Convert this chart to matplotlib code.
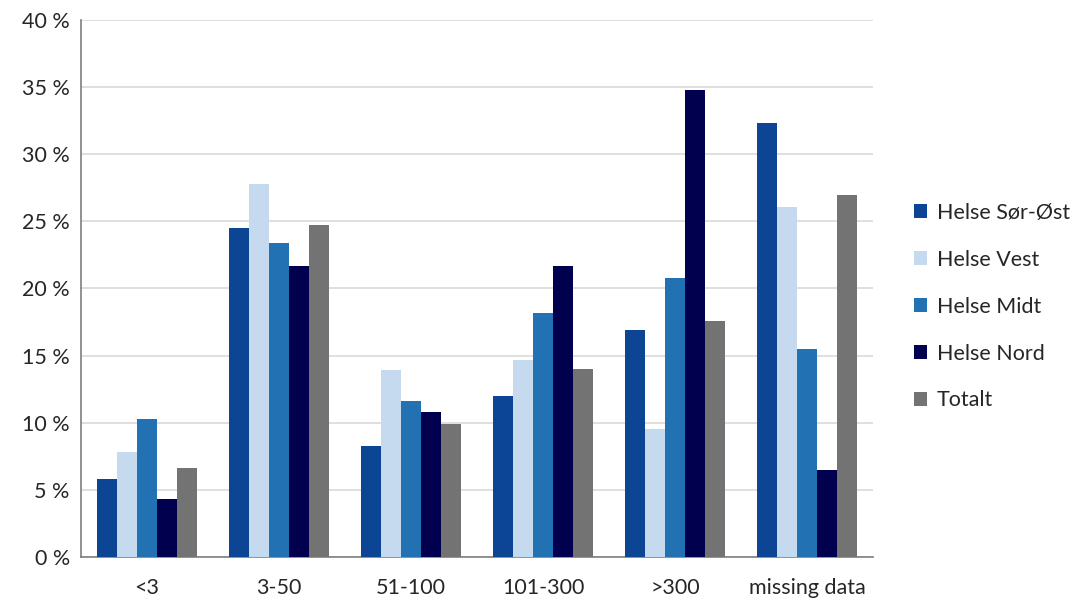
import matplotlib
matplotlib.use("Agg")
import matplotlib.pyplot as plt
import numpy as np
from matplotlib.patches import Patch

categories = ["<3", "3-50", "51-100", "101-300", ">300", "missing data"]
series_names = ["Helse Sør-Øst", "Helse Vest", "Helse Midt", "Helse Nord", "Totalt"]
helse_sor_ost = [5.8, 24.5, 8.3, 12.0, 16.9, 32.3]
helse_vest = [7.8, 27.8, 13.9, 14.7, 9.5, 26.1]
helse_midt = [10.3, 23.4, 11.6, 18.2, 20.8, 15.5]
helse_nord = [4.3, 21.7, 10.8, 21.7, 34.8, 6.5]
totalt = [6.6, 24.7, 9.9, 14.0, 17.6, 27.0]
y_ticks = [0, 5, 10, 15, 20, 25, 30, 35, 40]

series = [helse_sor_ost, helse_vest, helse_midt, helse_nord, totalt]
colors = ["#0B4594", "#C5D9EF", "#2271B3", "#00004F", "#737373"]

plt.rcParams["font.family"] = ["Lato", "DejaVu Sans"]

fig = plt.figure(figsize=(10.81, 6.06), dpi=100)
ax = fig.add_axes([0.0749, 0.0809, 0.7327, 0.8861])

x = np.arange(len(categories))
bw = 0.152
for i, (vals, col) in enumerate(zip(series, colors)):
    ax.bar(x + (i - 2) * bw, vals, width=bw, color=col, zorder=3, linewidth=0)

ax.set_xlim(-0.5, len(categories) - 0.5)
ax.set_ylim(0, 40)
ax.set_yticks(y_ticks)
ax.set_yticklabels([f"{t} %" for t in y_ticks])
ax.set_xticks(x)
ax.set_xticklabels(categories)
ax.tick_params(axis="both", length=0, labelsize=15.5, colors="#262626")
ax.tick_params(axis="y", pad=8)
ax.tick_params(axis="x", pad=15)
ax.grid(axis="y", color="#D9D9D9", linewidth=1.2, zorder=0)
for side in ["top", "right"]:
    ax.spines[side].set_visible(False)
ax.spines["left"].set_color("#7F7F7F")
ax.spines["bottom"].set_color("#7F7F7F")
ax.spines["left"].set_linewidth(1.2)
ax.spines["bottom"].set_linewidth(1.2)

handles = [Patch(facecolor=c, edgecolor="none", label=n) for c, n in zip(colors, series_names)]
fig.legend(handles=handles, loc="center left", bbox_to_anchor=(0.828, 0.494),
           frameon=False, fontsize=15.5, handlelength=0.6, handleheight=0.6,
           handletextpad=0.45, labelspacing=1.25, labelcolor="#262626")

fig.savefig("out.png", dpi=100)
